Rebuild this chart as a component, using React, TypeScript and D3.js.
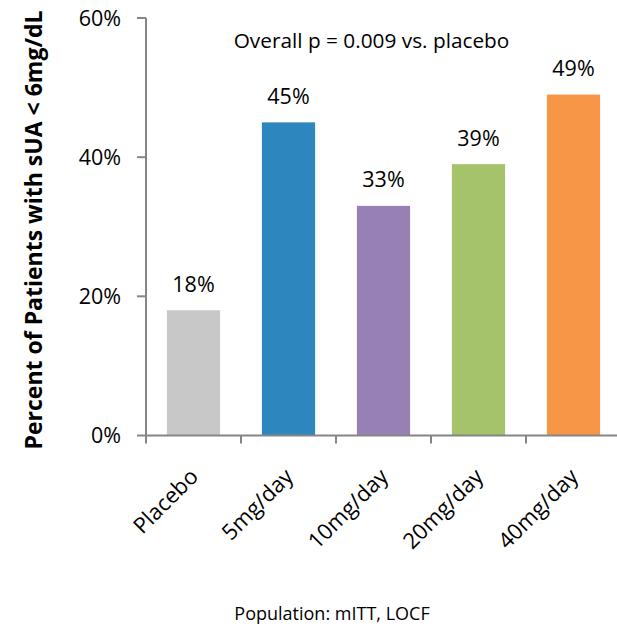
import React from "react";
import * as d3 from "d3";

const categories = ["Placebo", "5mg/day", "10mg/day", "20mg/day", "40mg/day"];
const values = [18, 45, 33, 39, 49];
const colors = ["#C8C8C8", "#2E86BE", "#9780B4", "#A5C36A", "#F79646"];
const yTicks = [0, 20, 40, 60];

const W = 617;
const H = 631;
const FONT = "'Open Sans', 'Noto Sans', sans-serif";

export default function App() {
  const x = d3
    .scaleBand<string>()
    .domain(categories)
    .range([146, 621])
    .paddingInner(0.44)
    .paddingOuter(0.22);
  const y = d3.scaleLinear().domain([0, 60]).range([435.5, 18]);
  const axisColor = "#868686";
  const fmt = (v: number) => `${v}%`;
  const step = x.step();

  return (
    <svg
      width={W}
      height={H}
      style={{ position: "absolute", left: 0, top: 0, background: "#fff" }}
      fontFamily={FONT}
    >
      {/* bars */}
      {categories.map((c, i) => (
        <rect
          key={c}
          x={x(c)}
          y={y(values[i])}
          width={x.bandwidth()}
          height={y(0) - y(values[i])}
          fill={colors[i]}
        />
      ))}
      {/* value labels */}
      {categories.map((c, i) => (
        <text
          key={c + "-v"}
          x={(x(c) as number) + x.bandwidth() / 2}
          y={y(values[i]) - 18.5}
          textAnchor="middle"
          fontSize={21.5}
          fill="#000"
        >
          {fmt(values[i])}
        </text>
      ))}
      {/* y axis */}
      <line x1={146} x2={146} y1={y(60)} y2={y(0)} stroke={axisColor} strokeWidth={2} />
      {yTicks.map((t) => (
        <g key={t}>
          <line x1={137} x2={146} y1={y(t)} y2={y(t)} stroke={axisColor} strokeWidth={2} />
          <text x={121} y={y(t)} dy="0.35em" textAnchor="end" fontSize={21.5} fill="#000">
            {fmt(t)}
          </text>
        </g>
      ))}
      {/* x axis */}
      <line x1={146} x2={621} y1={y(0)} y2={y(0)} stroke={axisColor} strokeWidth={2} />
      {categories.map((c, i) => (
        <line
          key={c + "-t"}
          x1={146 + i * step}
          x2={146 + i * step}
          y1={y(0)}
          y2={y(0) + 8}
          stroke={axisColor}
          strokeWidth={2}
        />
      ))}
      {categories.map((c) => {
        const cx = (x(c) as number) + x.bandwidth() / 2 + 6;
        const cy = 478;
        return (
          <text
            key={c + "-l"}
            x={cx}
            y={cy}
            textAnchor="end"
            fontSize={22}
            fill="#000"
            transform={`rotate(-45 ${cx} ${cy})`}
          >
            {c}
          </text>
        );
      })}
      {/* annotation */}
      <text x={371.5} y={48} textAnchor="middle" fontSize={20.8} fill="#000">
        Overall p = 0.009 vs. placebo
      </text>
      {/* y title */}
      <text
        transform="translate(42 230) rotate(-90)"
        textAnchor="middle"
        fontSize={23}
        fontWeight="bold"
        fill="#000"
      >
        Percent of Patients with sUA &lt; 6mg/dL
      </text>
      {/* population note */}
      <text x={332} y={620} textAnchor="middle" fontSize={18} fill="#000">
        Population: mITT, LOCF
      </text>
    </svg>
  );
}
